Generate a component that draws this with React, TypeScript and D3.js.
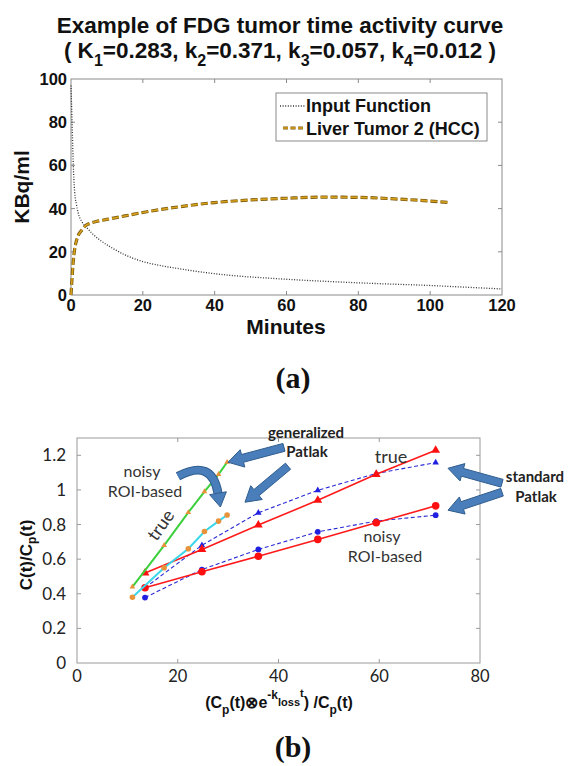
import React from 'react';
import * as d3 from 'd3';

// ---- Panel (a) data ----
const inputT = [0, 0.3, 0.6, 1, 1.5, 2, 3, 4.5, 6, 8, 11, 15, 20, 25, 30, 36, 45, 55, 64, 75, 85, 100, 110, 120];
const inputV = [97, 80, 62, 48, 42, 38, 34, 31, 28.3, 25.5, 22.2, 18.6, 15.5, 13.6, 12.2, 10.7, 9, 7.8, 6.9, 6, 5.3, 4.4, 3.6, 2.8];
const tumorT = [0, 0.3, 0.6, 1, 1.5, 2, 3, 4, 5, 7, 10, 15, 20, 30, 40, 50, 60, 70, 80, 90, 100, 105.5];
const tumorV = [0, 8, 15, 21, 25, 27.5, 30, 32, 33, 34, 35, 36.6, 38.2, 40.8, 42.8, 44, 44.8, 45.3, 45.2, 44.5, 43.5, 42.8];
const topXTicks = [0, 20, 40, 60, 80, 100, 120];
const topYTicks = [0, 20, 40, 60, 80, 100];
const legendLabels = ['Input Function', 'Liver Tumor 2 (HCC)'];

// ---- Panel (b) data ----
const genX = [11, 17.3, 22.1, 25.3, 28.1, 29.8];
const genTrueY = [0.44, 0.68, 0.87, 0.99, 1.09, 1.16];
const genNoisyY = [0.38, 0.55, 0.66, 0.76, 0.82, 0.855];
const stdX = [13.5, 24.8, 36, 47.8, 59.4, 71.2];
const stdRedTriY = [0.52, 0.656, 0.797, 0.94, 1.09, 1.229];
const stdBlueTriY = [0.435, 0.68, 0.868, 0.998, 1.095, 1.158];
const stdRedCircY = [0.435, 0.527, 0.617, 0.714, 0.81, 0.908];
const stdBlueCircY = [0.378, 0.54, 0.656, 0.758, 0.82, 0.854];
const botXTicks = [0, 20, 40, 60, 80];
const botYTicks = [0, 0.2, 0.4, 0.6, 0.8, 1, 1.2];

const SANS = '"Liberation Sans", Arial, sans-serif';
const CAL = 'Lato, "Open Sans", sans-serif';
const ARROW_FILL = '#4a7ebb';
const ARROW_STROKE = '#2f5d8e';

function blockArrow(x0: number, y0: number, x1: number, y1: number, shaft = 8, headW = 18, headL = 15) {
  const dx = x1 - x0, dy = y1 - y0, L = Math.hypot(dx, dy);
  const ux = dx / L, uy = dy / L, nx = -uy, ny = ux;
  const bx = x1 - ux * headL, by = y1 - uy * headL;
  const pts = [
    [x0 + nx * shaft / 2, y0 + ny * shaft / 2],
    [bx + nx * shaft / 2, by + ny * shaft / 2],
    [bx + nx * headW / 2, by + ny * headW / 2],
    [x1, y1],
    [bx - nx * headW / 2, by - ny * headW / 2],
    [bx - nx * shaft / 2, by - ny * shaft / 2],
    [x0 - nx * shaft / 2, y0 - ny * shaft / 2],
  ];
  return pts.map((p) => p.join(',')).join(' ');
}

export default function App() {
  // Panel (a) scales
  const xa = d3.scaleLinear().domain([0, 120]).range([71, 502]);
  const ya = d3.scaleLinear().domain([0, 100]).range([295, 79]);
  const lineA = d3.line<number>().curve(d3.curveMonotoneX);
  const inputPath = lineA(inputT.map((t, i) => [xa(t), ya(inputV[i])] as [number, number]));
  const tumorPath = lineA(tumorT.map((t, i) => [xa(t), ya(tumorV[i])] as [number, number]));

  // Panel (b) scales
  const xb = d3.scaleLinear().domain([0, 80]).range([77, 480]);
  const yb = d3.scaleLinear().domain([0, 1.3]).range([663, 438]);
  const lineB = d3.line<number>();
  const mk = (xs: number[], ys: number[]) => xs.map((x, i) => [xb(x), yb(ys[i])] as [number, number]);
  const tri = (size: number) => d3.symbol().type(d3.symbolTriangle).size(size)() as string;

  const series = [
    { pts: mk(stdX, stdBlueTriY), color: '#2b2bd6', w: 1.1, dash: '4,2.5', marker: 'tri', msize: 18, mcolor: '#2020e0' },
    { pts: mk(stdX, stdBlueCircY), color: '#2b2bd6', w: 1.1, dash: '4,2.5', marker: 'circ', msize: 2.9, mcolor: '#2020e0' },
    { pts: mk(stdX, stdRedTriY), color: '#ff1a1a', w: 1.6, dash: null, marker: 'tri', msize: 34, mcolor: '#ff1010' },
    { pts: mk(stdX, stdRedCircY), color: '#ff1a1a', w: 1.6, dash: null, marker: 'circ', msize: 3.8, mcolor: '#ff1010' },
    { pts: mk(genX, genTrueY), color: '#3cd03c', w: 2, dash: null, marker: 'tri', msize: 14, mcolor: '#e8923a' },
    { pts: mk(genX, genNoisyY), color: '#3ad6ea', w: 2, dash: null, marker: 'circ', msize: 2.8, mcolor: '#e8923a' },
  ];

  // arrows in data units of panel (b)
  const arrows = [
    { from: [41.09, 1.246], to: [29.98, 1.16] },
    { from: [41.89, 1.137], to: [33.35, 0.929] },
    { from: [84.37, 1.0385], to: [73.65, 1.125] },
    { from: [84.37, 0.9866], to: [73.65, 0.8827] },
  ];
  // curved arrow
  const cS = [xb(20.05), yb(1.079)];
  const cC = [xb(26.8), yb(1.183)];
  const cE = [xb(27.99), yb(0.981)];
  const cdx = cE[0] - cC[0], cdy = cE[1] - cC[1], cl = Math.hypot(cdx, cdy);
  const cux = cdx / cl, cuy = cdy / cl;
  const headL = 14, headW = 17;
  const cTip = [cE[0] + cux * headL, cE[1] + cuy * headL];
  const cHead = [
    [cE[0] - cuy * headW / 2, cE[1] + cux * headW / 2],
    cTip,
    [cE[0] + cuy * headW / 2, cE[1] - cux * headW / 2],
  ].map((p) => p.join(',')).join(' ');
  const curvePath = `M${cS[0]},${cS[1]} Q${cC[0]},${cC[1]} ${cE[0]},${cE[1]}`;

  const axisGray = '#8a8a8a';

  return (
    <svg width={571} height={766} style={{ position: 'absolute', left: 0, top: 0, background: '#fff' }}>
      <rect x={0} y={0} width={571} height={766} fill="#fff" />
      {/* Title */}
      <text x={280} y={33} textAnchor="middle" fontFamily={SANS} fontWeight="bold" fontSize={22.5} fill="#111">
        Example of FDG tumor time activity curve
      </text>
      <text x={280} y={58} textAnchor="middle" fontFamily={SANS} fontWeight="bold" fontSize={22.5} fill="#111">
        ( K<tspan dy={8} fontSize={16}>1</tspan>
        <tspan dy={-8}>=0.283, k</tspan><tspan dy={8} fontSize={16}>2</tspan>
        <tspan dy={-8}>=0.371, k</tspan><tspan dy={8} fontSize={16}>3</tspan>
        <tspan dy={-8}>=0.057, k</tspan><tspan dy={8} fontSize={16}>4</tspan>
        <tspan dy={-8}>=0.012 )</tspan>
      </text>

      {/* Panel (a) */}
      <g>
        <rect x={71} y={79} width={431} height={216} fill="#fff" stroke={axisGray} strokeWidth={1} />
        {topXTicks.slice(1, -1).map((t) => (
          <g key={'xt' + t}>
            <line x1={xa(t)} x2={xa(t)} y1={79} y2={83} stroke={axisGray} />
            <line x1={xa(t)} x2={xa(t)} y1={295} y2={291} stroke={axisGray} />
          </g>
        ))}
        {topYTicks.slice(1, -1).map((t) => (
          <g key={'yt' + t}>
            <line x1={502} x2={498} y1={ya(t)} y2={ya(t)} stroke={axisGray} />
            <line x1={71} x2={75} y1={ya(t)} y2={ya(t)} stroke={axisGray} />
          </g>
        ))}
        <path d={inputPath || ''} fill="none" stroke="#333" strokeWidth={1.3} strokeDasharray="1,1.6" />
        <path d={tumorPath || ''} fill="none" stroke="#7a5a10" strokeWidth={3.2} strokeDasharray="7,3" />
        <path d={tumorPath || ''} fill="none" stroke="#d9a21c" strokeWidth={1.6} strokeDasharray="7,3" />
        {topXTicks.map((t) => (
          <text key={'xl' + t} x={xa(t)} y={311} textAnchor="middle" fontFamily={SANS} fontWeight="bold" fontSize={16.5} fill="#111">{t}</text>
        ))}
        {topYTicks.map((t) => (
          <text key={'yl' + t} x={67} y={ya(t) + 6} textAnchor="end" fontFamily={SANS} fontWeight="bold" fontSize={16.5} fill="#111">{t}</text>
        ))}
        <text x={286} y={334} textAnchor="middle" fontFamily={SANS} fontWeight="bold" fontSize={21} fill="#111">Minutes</text>
        <text transform={`translate(29,187) rotate(-90)`} textAnchor="middle" fontFamily={SANS} fontWeight="bold" fontSize={21} fill="#111">KBq/ml</text>
        {/* legend */}
        <rect x={276} y={93} width={211} height={48} fill="#fff" stroke={axisGray} />
        <line x1={280} x2={305} y1={106} y2={106} stroke="#333" strokeWidth={1.3} strokeDasharray="1,1.6" />
        <line x1={283} x2={305} y1={128} y2={128} stroke="#7a5a10" strokeWidth={3.2} strokeDasharray="5,2.5" />
        <line x1={283} x2={305} y1={128} y2={128} stroke="#d9a21c" strokeWidth={1.6} strokeDasharray="5,2.5" />
        <text x={306} y={112} fontFamily={SANS} fontWeight="bold" fontSize={18} fill="#111">{legendLabels[0]}</text>
        <text x={306} y={135} fontFamily={SANS} fontWeight="bold" fontSize={18} fill="#111">{legendLabels[1]}</text>
      </g>
      <text x={293} y={388} textAnchor="middle" fontFamily='"Liberation Serif", "Times New Roman", serif' fontWeight="bold" fontSize={30} fill="#111">(a)</text>

      {/* Panel (b) */}
      <g>
        <rect x={77} y={438} width={403} height={225} fill="#fff" stroke="#9a9a9a" strokeWidth={1} />
        {botXTicks.slice(1, -1).map((t) => (
          <g key={'bxt' + t}>
            <line x1={xb(t)} x2={xb(t)} y1={438} y2={442} stroke="#9a9a9a" />
            <line x1={xb(t)} x2={xb(t)} y1={663} y2={659} stroke="#9a9a9a" />
          </g>
        ))}
        {botYTicks.slice(1).map((t) => (
          <g key={'byt' + t}>
            <line x1={480} x2={476} y1={yb(t)} y2={yb(t)} stroke="#9a9a9a" />
            <line x1={77} x2={81} y1={yb(t)} y2={yb(t)} stroke="#9a9a9a" />
          </g>
        ))}
        {series.map((s, i) => (
          <g key={'s' + i}>
            <path d={lineB(s.pts) || ''} fill="none" stroke={s.color} strokeWidth={s.w} strokeDasharray={s.dash || undefined} />
            {s.pts.map((p, j) =>
              s.marker === 'tri' ? (
                <path key={j} d={tri(s.msize)} transform={`translate(${p[0]},${p[1]})`} fill={s.mcolor} />
              ) : (
                <circle key={j} cx={p[0]} cy={p[1]} r={s.msize} fill={s.mcolor} />
              )
            )}
          </g>
        ))}
        {botXTicks.map((t) => (
          <text key={'bxl' + t} x={xb(t)} y={682} textAnchor="middle" fontFamily={CAL} fontSize={16.5} fill="#222">{t}</text>
        ))}
        {botYTicks.map((t) => (
          <text key={'byl' + t} x={66} y={yb(t) + 6} textAnchor="end" fontFamily={CAL} fontSize={17} fill="#222">{t}</text>
        ))}
        {/* arrows */}
        {arrows.map((a, i) => (
          <polygon key={'ar' + i} points={blockArrow(xb(a.from[0]), yb(a.from[1]), xb(a.to[0]), yb(a.to[1]))} fill={ARROW_FILL} stroke={ARROW_STROKE} strokeWidth={1} strokeLinejoin="round" />
        ))}
        <path d={curvePath} fill="none" stroke={ARROW_STROKE} strokeWidth={9} />
        <path d={curvePath} fill="none" stroke={ARROW_FILL} strokeWidth={7} />
        <polygon points={cHead} fill={ARROW_FILL} stroke={ARROW_STROKE} strokeWidth={1} />

        {/* annotations */}
        <text x={xb(45.46)} y={yb(1.31) + 2} textAnchor="middle" fontFamily={CAL} fontWeight="bold" fontSize={15} fill="#222">generalized</text>
        <text x={xb(45.66)} y={yb(1.188)} textAnchor="middle" fontFamily={CAL} fontWeight="bold" fontSize={15} fill="#222">Patlak</text>
        <text x={xb(12.9)} y={yb(1.073)} textAnchor="middle" fontFamily={CAL} fontSize={16} fill="#333">noisy</text>
        <text x={xb(13.5)} y={yb(0.958)} textAnchor="middle" fontFamily={CAL} fontSize={16} fill="#333">ROI-based</text>
        <text transform={`translate(${xb(16.67)},${yb(0.796)}) rotate(-55)`} textAnchor="middle" dy={6} fontFamily={CAL} fontSize={18} fill="#333">true</text>
        <text x={xb(62.33)} y={yb(1.154)} textAnchor="middle" fontFamily={CAL} fontSize={18} fill="#333">true</text>
        <text x={xb(60.55)} y={yb(0.698)} textAnchor="middle" fontFamily={CAL} fontSize={16} fill="#333">noisy</text>
        <text x={xb(61.14)} y={yb(0.583)} textAnchor="middle" fontFamily={CAL} fontSize={16} fill="#333">ROI-based</text>
        <text x={xb(90.92)} y={yb(1.044)} textAnchor="middle" fontFamily={CAL} fontWeight="bold" fontSize={15} fill="#222">standard</text>
        <text x={xb(91.12)} y={yb(0.929)} textAnchor="middle" fontFamily={CAL} fontWeight="bold" fontSize={15} fill="#222">Patlak</text>

        {/* axis labels */}
        <text transform="translate(32,555) rotate(-90)" textAnchor="middle" fontFamily={SANS} fontWeight="bold" fontSize={17} fill="#111">
          C(t)/C<tspan dy={4} fontSize={12}>p</tspan><tspan dy={-4}>(t)</tspan>
        </text>
        <text x={279} y={708} textAnchor="middle" fontFamily={SANS} fontWeight="bold" fontSize={16} fill="#111">
          (C<tspan dy={6} fontSize={12}>p</tspan>
          <tspan dy={-6}>(t)⊗e</tspan>
          <tspan dy={-9} fontSize={12}>-k</tspan>
          <tspan dy={7} fontSize={11}>loss</tspan>
          <tspan dy={-9} fontSize={11}>t</tspan>
          <tspan dy={11}>) /C</tspan>
          <tspan dy={6} fontSize={12}>p</tspan>
          <tspan dy={-6}>(t)</tspan>
        </text>
      </g>
      <text x={293} y={757} textAnchor="middle" fontFamily='"Liberation Serif", "Times New Roman", serif' fontWeight="bold" fontSize={30} fill="#111">(b)</text>
    </svg>
  );
}
